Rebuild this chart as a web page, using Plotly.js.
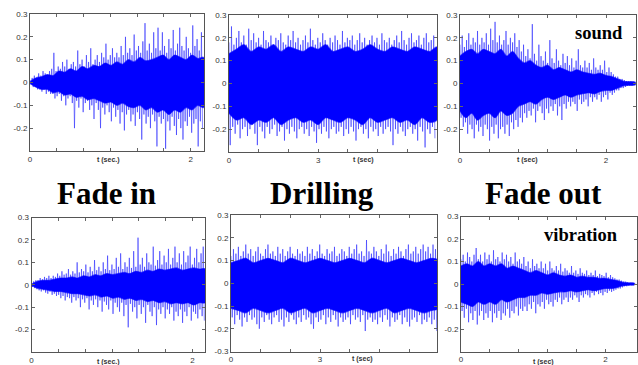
<!DOCTYPE html>
<html>
<head>
<meta charset="utf-8">
<script src="https://cdn.plot.ly/plotly-3.0.1.min.js"></script>
<style>html,body{margin:0;padding:0;background:#fff;}#chart{width:638px;height:365px;}</style>
</head>
<body>
<div id="chart"></div>
<script>
// ---------- DATA ----------
const rowLabels = ["Fade in", "Drilling", "Fade out"];
const signalLabels = ["sound", "vibration"];

// Fade in – sound
const fadeInSoundStep = 0.027;
const fadeInSoundHi = [0.01,0.02,0.03,0.02,0.04,0.03,0.05,0.04,0.03,0.05,
  0.06,0.13,0.05,0.07,0.06,0.09,0.07,0.10,0.06,0.08,
  0.09,0.07,0.14,0.08,0.10,0.07,0.12,0.09,0.15,0.08,
  0.10,0.12,0.09,0.13,0.11,0.17,0.10,0.12,0.15,0.11,
  0.13,0.11,0.16,0.12,0.20,0.13,0.15,0.12,0.21,0.14,
  0.16,0.13,0.18,0.26,0.14,0.17,0.13,0.22,0.15,0.24,
  0.14,0.22,0.16,0.13,0.19,0.15,0.23,0.14,0.17,0.24,
  0.16,0.14,0.20,0.15,0.13,0.25,0.16,0.19,0.14,0.22];
const fadeInSoundLo = [-0.01,-0.02,-0.02,-0.03,-0.03,-0.04,-0.03,-0.05,-0.04,-0.05,
  -0.05,-0.07,-0.06,-0.05,-0.08,-0.06,-0.10,-0.07,-0.06,-0.09,
  -0.20,-0.08,-0.11,-0.07,-0.13,-0.09,-0.08,-0.12,-0.10,-0.16,
  -0.09,-0.12,-0.20,-0.11,-0.14,-0.10,-0.13,-0.17,-0.11,-0.15,
  -0.12,-0.18,-0.13,-0.21,-0.14,-0.12,-0.17,-0.14,-0.19,-0.13,
  -0.16,-0.25,-0.14,-0.18,-0.15,-0.20,-0.14,-0.17,-0.28,-0.15,
  -0.18,-0.16,-0.29,-0.17,-0.21,-0.15,-0.19,-0.23,-0.16,-0.20,
  -0.25,-0.17,-0.19,-0.15,-0.22,-0.18,-0.16,-0.28,-0.17,-0.20];
const fadeInSoundCoreStep = 0.072;
const fadeInSoundCoreHi = [0.00,0.02,0.025,0.035,0.03,0.05,0.045,0.06,0.05,0.07,0.06,0.075,0.07,0.085,0.075,0.09,0.08,0.10,0.09,0.11,0.095,0.10,0.11,0.12,0.10,0.12,0.11,0.10,0.12,0.105,0.11];
const fadeInSoundCoreLo = [0.00,-0.02,-0.03,-0.03,-0.045,-0.04,-0.055,-0.05,-0.065,-0.06,-0.075,-0.07,-0.08,-0.09,-0.085,-0.10,-0.09,-0.105,-0.11,-0.10,-0.12,-0.11,-0.13,-0.12,-0.14,-0.12,-0.13,-0.11,-0.12,-0.10,-0.11];

// Drilling – sound
const drillSoundStep = 0.083;
const drillSoundHi = [0.18,0.25,0.17,0.20,0.23,0.18,0.21,0.17,0.24,0.19,
  0.22,0.18,0.20,0.17,0.23,0.19,0.18,0.21,0.17,0.20,
  0.19,0.22,0.18,0.17,0.21,0.19,0.23,0.18,0.20,0.17,
  0.19,0.21,0.18,0.24,0.19,0.17,0.20,0.18,0.22,0.19,
  0.17,0.20,0.18,0.21,0.19,0.17,0.23,0.18,0.20,0.19,
  0.21,0.17,0.19,0.22,0.18,0.20,0.17,0.19,0.21,0.18,
  0.20,0.17,0.22,0.19,0.18,0.20,0.17,0.19,0.21,0.18,
  0.23,0.19,0.17,0.20,0.22,0.18,0.19,0.21,0.17,0.20,
  0.22,0.18,0.19,0.21];
const drillSoundLo = [-0.27,-0.19,-0.22,-0.18,-0.24,-0.20,-0.19,-0.23,-0.20,-0.18,
  -0.22,-0.27,-0.19,-0.21,-0.24,-0.19,-0.22,-0.20,-0.18,-0.23,
  -0.21,-0.19,-0.25,-0.20,-0.22,-0.19,-0.21,-0.24,-0.20,-0.19,
  -0.22,-0.20,-0.23,-0.19,-0.21,-0.26,-0.20,-0.22,-0.19,-0.21,
  -0.24,-0.20,-0.19,-0.22,-0.21,-0.19,-0.23,-0.20,-0.22,-0.19,
  -0.21,-0.25,-0.20,-0.19,-0.22,-0.20,-0.24,-0.19,-0.21,-0.20,
  -0.23,-0.19,-0.22,-0.20,-0.19,-0.21,-0.27,-0.20,-0.22,-0.19,
  -0.21,-0.23,-0.20,-0.19,-0.22,-0.20,-0.25,-0.19,-0.21,-0.28,
  -0.20,-0.22,-0.19,-0.24];
const drillSoundCoreStep = 0.25;
const drillSoundCoreHi = [0.13,0.15,0.17,0.14,0.16,0.15,0.17,0.14,0.16,0.15,0.14,0.16,0.15,0.17,0.14,0.15,0.16,0.14,0.15,0.17,0.15,0.14,0.16,0.15,0.14,0.16,0.15,0.14,0.16];
const drillSoundCoreLo = [-0.13,-0.16,-0.15,-0.18,-0.16,-0.17,-0.15,-0.18,-0.16,-0.15,-0.17,-0.16,-0.18,-0.15,-0.16,-0.17,-0.15,-0.16,-0.18,-0.15,-0.17,-0.16,-0.15,-0.17,-0.16,-0.18,-0.15,-0.17,-0.16];

// Fade out – sound
const fadeOutSoundStep = 0.03;
const fadeOutSoundHi = [0.17,0.21,0.16,0.19,0.22,0.17,0.20,0.18,0.23,0.17,
  0.20,0.18,0.22,0.17,0.24,0.19,0.27,0.18,0.21,0.17,
  0.19,0.23,0.17,0.20,0.18,0.22,0.16,0.19,0.14,0.17,
  0.12,0.15,0.11,0.26,0.13,0.10,0.17,0.12,0.10,0.14,
  0.09,0.19,0.11,0.09,0.15,0.10,0.08,0.13,0.09,0.12,
  0.08,0.11,0.07,0.10,0.15,0.08,0.07,0.10,0.07,0.09,
  0.06,0.11,0.07,0.06,0.08,0.06,0.10,0.05,0.07,0.05,
  0.04,0.03,0.03,0.02,0.02,0.015,0.01,0.01,0.01,0.008];
const fadeOutSoundLo = [-0.15,-0.19,-0.17,-0.22,-0.18,-0.20,-0.24,-0.18,-0.21,-0.19,
  -0.23,-0.18,-0.20,-0.25,-0.19,-0.22,-0.18,-0.24,-0.20,-0.19,
  -0.22,-0.18,-0.23,-0.17,-0.20,-0.16,-0.19,-0.15,-0.17,-0.13,
  -0.15,-0.12,-0.14,-0.11,-0.17,-0.12,-0.10,-0.13,-0.16,-0.11,
  -0.13,-0.10,-0.12,-0.09,-0.14,-0.10,-0.16,-0.09,-0.11,-0.08,
  -0.10,-0.08,-0.09,-0.12,-0.07,-0.09,-0.08,-0.07,-0.10,-0.06,
  -0.08,-0.06,-0.07,-0.05,-0.08,-0.06,-0.05,-0.07,-0.04,-0.05,
  -0.04,-0.03,-0.03,-0.02,-0.02,-0.015,-0.01,-0.01,-0.01,-0.008];
const fadeOutSoundCoreStep = 0.08;
const fadeOutSoundCoreHi = [0.12,0.14,0.15,0.13,0.15,0.14,0.13,0.15,0.12,0.14,0.11,0.09,0.10,0.08,0.07,0.08,0.06,0.07,0.06,0.05,0.06,0.05,0.045,0.04,0.045,0.035,0.03,0.02,0.01,0.008,0.006];
const fadeOutSoundCoreLo = [-0.12,-0.15,-0.13,-0.16,-0.14,-0.13,-0.15,-0.12,-0.14,-0.13,-0.10,-0.09,-0.08,-0.09,-0.07,-0.06,-0.07,-0.06,-0.05,-0.06,-0.05,-0.045,-0.04,-0.045,-0.035,-0.03,-0.03,-0.02,-0.01,-0.008,-0.006];

// Fade in – vibration
const fadeInVibStep = 0.027;
const fadeInVibHi = [0.01,0.015,0.02,0.02,0.03,0.025,0.035,0.03,0.04,0.03,
  0.04,0.035,0.05,0.04,0.06,0.045,0.05,0.07,0.045,0.06,
  0.05,0.10,0.055,0.07,0.06,0.09,0.055,0.08,0.06,0.11,
  0.065,0.08,0.06,0.10,0.07,0.13,0.065,0.09,0.07,0.12,
  0.08,0.14,0.07,0.10,0.08,0.12,0.075,0.15,0.08,0.21,
  0.09,0.12,0.08,0.14,0.10,0.09,0.17,0.085,0.11,0.15,
  0.09,0.13,0.10,0.16,0.09,0.12,0.17,0.10,0.14,0.09,
  0.15,0.10,0.13,0.17,0.09,0.12,0.16,0.10,0.14,0.17];
const fadeInVibLo = [-0.01,-0.015,-0.02,-0.025,-0.03,-0.025,-0.035,-0.04,-0.03,-0.045,
  -0.04,-0.05,-0.045,-0.06,-0.05,-0.07,-0.055,-0.06,-0.08,-0.055,
  -0.07,-0.06,-0.10,-0.065,-0.08,-0.06,-0.11,-0.07,-0.09,-0.065,
  -0.10,-0.07,-0.12,-0.075,-0.09,-0.11,-0.07,-0.13,-0.08,-0.10,
  -0.12,-0.08,-0.14,-0.09,-0.19,-0.085,-0.12,-0.10,-0.15,-0.09,
  -0.13,-0.10,-0.17,-0.09,-0.12,-0.14,-0.10,-0.18,-0.11,-0.13,
  -0.10,-0.15,-0.11,-0.13,-0.10,-0.16,-0.12,-0.14,-0.11,-0.17,
  -0.12,-0.14,-0.10,-0.16,-0.12,-0.13,-0.15,-0.11,-0.14,-0.16];
const fadeInVibCoreStep = 0.072;
const fadeInVibCoreHi = [0.00,0.015,0.02,0.02,0.025,0.03,0.03,0.035,0.03,0.04,0.035,0.045,0.04,0.05,0.045,0.05,0.055,0.05,0.06,0.055,0.065,0.06,0.07,0.065,0.07,0.075,0.065,0.07,0.075,0.07,0.07];
const fadeInVibCoreLo = [0.00,-0.015,-0.02,-0.025,-0.03,-0.03,-0.035,-0.04,-0.04,-0.045,-0.05,-0.045,-0.055,-0.05,-0.06,-0.055,-0.065,-0.06,-0.07,-0.065,-0.075,-0.07,-0.08,-0.075,-0.085,-0.08,-0.085,-0.08,-0.09,-0.08,-0.08];

// Drilling – vibration
const drillVibStep = 0.083;
const drillVibHi = [0.12,0.15,0.13,0.16,0.12,0.14,0.17,0.13,0.15,0.12,
  0.14,0.16,0.13,0.12,0.15,0.17,0.13,0.14,0.12,0.16,
  0.13,0.15,0.12,0.14,0.16,0.13,0.12,0.15,0.13,0.14,
  0.12,0.16,0.13,0.15,0.12,0.14,0.17,0.13,0.12,0.15,
  0.13,0.14,0.16,0.12,0.13,0.15,0.14,0.12,0.16,0.13,
  0.15,0.17,0.13,0.14,0.12,0.19,0.14,0.13,0.16,0.14,
  0.12,0.15,0.13,0.17,0.14,0.12,0.15,0.13,0.16,0.14,
  0.12,0.15,0.17,0.13,0.14,0.16,0.13,0.15,0.17,0.14,
  0.16,0.13,0.17,0.15];
const drillVibLo = [-0.15,-0.18,-0.14,-0.16,-0.19,-0.15,-0.17,-0.14,-0.16,-0.15,
  -0.18,-0.20,-0.15,-0.17,-0.14,-0.16,-0.18,-0.15,-0.14,-0.17,
  -0.16,-0.19,-0.15,-0.17,-0.14,-0.16,-0.18,-0.15,-0.17,-0.14,
  -0.16,-0.15,-0.18,-0.20,-0.15,-0.17,-0.16,-0.14,-0.18,-0.15,
  -0.17,-0.14,-0.16,-0.19,-0.15,-0.17,-0.16,-0.15,-0.18,-0.14,
  -0.16,-0.15,-0.17,-0.14,-0.21,-0.16,-0.15,-0.17,-0.16,-0.18,
  -0.15,-0.17,-0.14,-0.16,-0.19,-0.15,-0.17,-0.16,-0.14,-0.18,
  -0.15,-0.17,-0.19,-0.16,-0.15,-0.17,-0.14,-0.18,-0.16,-0.17,
  -0.15,-0.18,-0.16,-0.21];
const drillVibCoreStep = 0.25;
const drillVibCoreHi = [0.09,0.10,0.11,0.09,0.10,0.11,0.10,0.09,0.11,0.10,0.09,0.10,0.11,0.10,0.09,0.10,0.11,0.10,0.09,0.11,0.10,0.09,0.10,0.11,0.10,0.09,0.10,0.11,0.10];
const drillVibCoreLo = [-0.11,-0.12,-0.13,-0.11,-0.12,-0.13,-0.12,-0.11,-0.13,-0.12,-0.11,-0.13,-0.12,-0.11,-0.12,-0.13,-0.12,-0.11,-0.12,-0.13,-0.12,-0.11,-0.13,-0.12,-0.11,-0.12,-0.13,-0.12,-0.11];

// Fade out – vibration
const fadeOutVibStep = 0.03;
const fadeOutVibHi = [0.11,0.13,0.10,0.14,0.12,0.10,0.13,0.16,0.11,0.13,
  0.10,0.14,0.11,0.13,0.10,0.15,0.11,0.12,0.10,0.14,
  0.11,0.13,0.10,0.12,0.09,0.14,0.10,0.11,0.09,0.12,
  0.08,0.10,0.07,0.11,0.08,0.09,0.07,0.10,0.07,0.09,
  0.06,0.10,0.07,0.06,0.08,0.06,0.09,0.055,0.07,0.06,
  0.05,0.08,0.05,0.06,0.045,0.07,0.05,0.045,0.06,0.04,
  0.05,0.04,0.06,0.035,0.045,0.04,0.035,0.05,0.03,0.04,
  0.03,0.025,0.02,0.02,0.015,0.01,0.01,0.008,0.006,0.005];
const fadeOutVibLo = [-0.12,-0.15,-0.11,-0.17,-0.13,-0.16,-0.12,-0.18,-0.14,-0.12,
  -0.16,-0.13,-0.15,-0.12,-0.17,-0.13,-0.15,-0.12,-0.16,-0.13,
  -0.14,-0.11,-0.15,-0.12,-0.13,-0.10,-0.14,-0.11,-0.12,-0.10,
  -0.12,-0.09,-0.11,-0.08,-0.13,-0.09,-0.10,-0.08,-0.11,-0.07,
  -0.09,-0.08,-0.10,-0.07,-0.08,-0.06,-0.09,-0.07,-0.06,-0.08,
  -0.06,-0.07,-0.05,-0.06,-0.08,-0.05,-0.06,-0.045,-0.05,-0.06,
  -0.04,-0.05,-0.035,-0.045,-0.04,-0.05,-0.035,-0.04,-0.03,-0.035,
  -0.03,-0.025,-0.02,-0.02,-0.015,-0.01,-0.01,-0.008,-0.006,-0.005];
const fadeOutVibCoreStep = 0.08;
const fadeOutVibCoreHi = [0.08,0.09,0.08,0.10,0.08,0.09,0.08,0.09,0.07,0.08,0.07,0.06,0.05,0.06,0.05,0.04,0.05,0.04,0.035,0.04,0.03,0.035,0.03,0.03,0.025,0.025,0.02,0.015,0.008,0.005,0.004];
const fadeOutVibCoreLo = [-0.08,-0.09,-0.10,-0.08,-0.09,-0.08,-0.09,-0.07,-0.08,-0.07,-0.06,-0.06,-0.05,-0.05,-0.04,-0.045,-0.04,-0.035,-0.035,-0.03,-0.035,-0.03,-0.025,-0.03,-0.025,-0.02,-0.02,-0.015,-0.008,-0.005,-0.004];

// axis tick values / labels
const yTickVals = [-0.3,-0.2,-0.1,0,0.1,0.2,0.3];
const yTickText = ["","-0.2","-0.1","0","0.1","0.2","0.3"];
const yTickTextFull = ["-0.3","-0.2","-0.1","0","0.1","0.2","0.3"];
const xTickFadeIn = [0,1/3,2/3,1,4/3,5/3,2];
const xTickFadeInText = ["0","","","","","","2"];
const xTickDrill = [0,1,2,3,4,5,6,7];
const xTickDrillText = ["0","","","3","","","",""];
const xTickFadeOut = [0,0.4,0.8,1.2,1.6,2.0];
const xTickFadeOutText = ["0","","","","","2"];

// ---------- BUILD ----------
const W = 638, H = 365;
const panels = [
  {hi:fadeInSoundHi, lo:fadeInSoundLo, step:fadeInSoundStep, cHi:fadeInSoundCoreHi, cLo:fadeInSoundCoreLo, cStep:fadeInSoundCoreStep,
   box:[30,204,14,151], xr:[0,2.165], xt:xTickFadeIn, xtt:xTickFadeInText, yt:yTickText, xlab:"t (sec.)", xlabX:108, xlabY:160},
  {hi:drillSoundHi, lo:drillSoundLo, step:drillSoundStep, cHi:drillSoundCoreHi, cLo:drillSoundCoreLo, cStep:drillSoundCoreStep,
   box:[229,437,15,152], xr:[0,7], xt:xTickDrill, xtt:xTickDrillText, yt:yTickText, xlab:"t (sec)", xlabX:363, xlabY:160},
  {hi:fadeOutSoundHi, lo:fadeOutSoundLo, step:fadeOutSoundStep, cHi:fadeOutSoundCoreHi, cLo:fadeOutSoundCoreLo, cStep:fadeOutSoundCoreStep,
   box:[460,636,15,152], xr:[0,2.41], xt:xTickFadeOut, xtt:xTickFadeOutText, yt:yTickText, xlab:"t (sec)", xlabX:527, xlabY:160},
  {hi:fadeInVibHi, lo:fadeInVibLo, step:fadeInVibStep, cHi:fadeInVibCoreHi, cLo:fadeInVibCoreLo, cStep:fadeInVibCoreStep,
   box:[31.5,205,217.5,352], xr:[0,2.155], xt:xTickFadeIn, xtt:xTickFadeInText, yt:yTickText, xlab:"t (sec.)", xlabX:108, xlabY:362},
  {hi:drillVibHi, lo:drillVibLo, step:drillVibStep, cHi:drillVibCoreHi, cLo:drillVibCoreLo, cStep:drillVibCoreStep,
   box:[231,437,215,351.5], xr:[0,6.94], xt:xTickDrill, xtt:xTickDrillText, yt:yTickTextFull, xlab:"t (sec)", xlabX:362, xlabY:359},
  {hi:fadeOutVibHi, lo:fadeOutVibLo, step:fadeOutVibStep, cHi:fadeOutVibCoreHi, cLo:fadeOutVibCoreLo, cStep:fadeOutVibCoreStep,
   box:[461,636.5,216.5,351.5], xr:[0,2.43], xt:xTickFadeOut, xtt:xTickFadeOutText, yt:yTickText, xlab:"t (sec)", xlabX:543, xlabY:362}
];

const traces = [];
const layout = {
  width: W, height: H,
  margin: {l:0, r:0, t:0, b:0},
  paper_bgcolor: "#fff", plot_bgcolor: "#fff",
  showlegend: false,
  annotations: []
};
const tickFont = {family: "Liberation Sans, Arial, sans-serif", size: 8, color: "#333"};

panels.forEach((p, k) => {
  const n = k + 1;
  const xa = n === 1 ? "x" : "x" + n;
  const ya = n === 1 ? "y" : "y" + n;
  // oscillating waveform line (upper peak -> lower peak -> ...)
  const sx = [], sy = [];
  const m = Math.min(p.hi.length, p.lo.length);
  for (let i = 0; i < m; i++) {
    sx.push(i * p.step); sy.push(p.hi[i]);
    sx.push(i * p.step + p.step / 2); sy.push(p.lo[i]);
  }
  traces.push({x: sx, y: sy, xaxis: xa, yaxis: ya, mode: "lines", type: "scatter",
    line: {color: "rgba(35,35,255,0.62)", width: 0.9}, hoverinfo: "skip"});
  // dense core of the signal
  const mc = Math.min(p.cHi.length, p.cLo.length);
  const ct = [], cu = [], cl = [];
  for (let i = 0; i < mc; i++) { ct.push(i * p.cStep); cu.push(p.cHi[i]); cl.push(p.cLo[i]); }
  traces.push({x: ct.concat(ct.slice().reverse()), y: cu.concat(cl.slice().reverse()),
    xaxis: xa, yaxis: ya, mode: "lines", type: "scatter", fill: "toself",
    fillcolor: "rgb(0,0,255)", line: {color: "rgba(0,0,255,0.6)", width: 1.2, shape: "spline", smoothing: 0.8},
    hoverinfo: "skip"});

  const [x0, x1, y0, y1] = p.box;
  const axCommon = {ticks: "inside", ticklen: 3, tickcolor: "#666", tickwidth: 1,
    showline: true, linecolor: "#555", linewidth: 1, mirror: "ticks",
    showgrid: false, zeroline: false, tickfont: tickFont, fixedrange: true};
  layout["xaxis" + (n === 1 ? "" : n)] = Object.assign({}, axCommon, {
    domain: [x0 / W, x1 / W], range: p.xr, anchor: ya,
    tickmode: "array", tickvals: p.xt, ticktext: p.xtt});
  layout["yaxis" + (n === 1 ? "" : n)] = Object.assign({}, axCommon, {
    domain: [1 - y1 / H, 1 - y0 / H], range: [-0.3, 0.3], anchor: xa,
    tickmode: "array", tickvals: yTickVals, ticktext: p.yt});
  layout.annotations.push({xref: "paper", yref: "paper", x: p.xlabX / W, y: 1 - p.xlabY / H,
    xanchor: "center", yanchor: "middle", showarrow: false, text: "<b>" + p.xlab + "</b>",
    font: {family: "Liberation Sans, Arial, sans-serif", size: 7, color: "#333"}});
});

// row labels (big)
const bigPos = [[106.5, 193], [321.7, 193], [543, 193]];
rowLabels.forEach((t, i) => {
  layout.annotations.push({xref: "paper", yref: "paper", x: bigPos[i][0] / W, y: 1 - bigPos[i][1] / H,
    xanchor: "center", yanchor: "middle", showarrow: false, text: "<b>" + t + "</b>",
    font: {family: "Liberation Serif, Times New Roman, serif", size: 31, color: "#000"}});
});
// signal labels
const sigPos = [[599, 33], [580.5, 235]];
signalLabels.forEach((t, i) => {
  layout.annotations.push({xref: "paper", yref: "paper", x: sigPos[i][0] / W, y: 1 - sigPos[i][1] / H,
    xanchor: "center", yanchor: "middle", showarrow: false, text: "<b>" + t + "</b>",
    font: {family: "Liberation Serif, Times New Roman, serif", size: 18.5, color: "#000"}});
});

Plotly.newPlot("chart", traces, layout, {staticPlot: true, displayModeBar: false});
</script>
</body>
</html>
